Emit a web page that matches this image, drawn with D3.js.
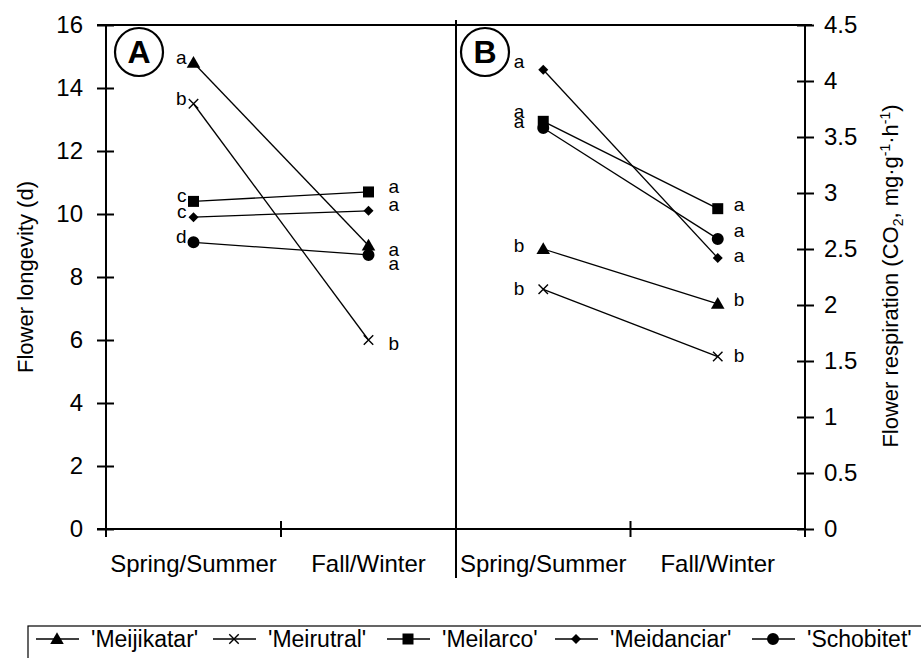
<!DOCTYPE html>
<html>
<head>
<meta charset="utf-8">
<script src="https://cdn.jsdelivr.net/npm/d3@7"></script>
<style>
  body { margin: 0; background: #fff; }
  text { font-family: "Liberation Sans", Arial, sans-serif; fill: #000; }
</style>
</head>
<body>
<svg id="chart" width="921" height="658"></svg>
<script>
// data
const seasons = ["Spring/Summer", "Fall/Winter"];
const cultivars = ["'Meijikatar'", "'Meirutral'", "'Meilarco'", "'Meidanciar'", "'Schobitet'"];
const symbols = ["triangle", "cross", "square", "diamond", "circle"];

// panel A: flower longevity (d), [spring/summer, fall/winter]
const longevity = [[14.8, 9.0], [13.5, 6.0], [10.4, 10.7], [9.9, 10.1], [9.1, 8.7]];
const longevityLetters = [["a", "a"], ["b", "b"], ["c", "a"], ["c", "a"], ["d", "a"]];

// panel B: flower respiration (CO2 mg/g/h)
const respiration = [[2.5, 2.01], [2.14, 1.54], [3.64, 2.86], [4.1, 2.42], [3.58, 2.59]];
const respirationLetters = [["b", "b"], ["b", "b"], ["a", "a"], ["a", "a"], ["a", "a"]];

const longevityTicks = [0, 2, 4, 6, 8, 10, 12, 14, 16];
const respirationTicks = [0, 0.5, 1, 1.5, 2, 2.5, 3, 3.5, 4, 4.5];

const svg = d3.select("#chart");
const plotTop = 25, plotBottom = 529;
const leftX = 106, midX = 456, rightX = 805;

const yL = d3.scaleLinear().domain([0, 16]).range([plotBottom, plotTop]);
const yR = d3.scaleLinear().domain([0, 4.5]).range([plotBottom, plotTop]);
const xA = d3.scaleBand().domain(seasons).range([leftX, midX]);
const xB = d3.scaleBand().domain(seasons).range([midX, rightX]);

// letter label nudges (px) so they don't collide, per cultivar
const nudge = {
  A: { ss: [-5, -5, -5, -5, -5], fw: [4, 4, -5, -6, 9], ssDx: -7, fwDx: 20 },
  B: { ss: [-3, 0, -9, -8, -6], fw: [-4, -1, -4, -2, -8], ssDx: -19, fwDx: 16 }
};

function marker(g, type, x, y) {
  if (type === "cross") {
    g.append("path")
      .attr("transform", `translate(${x},${y})`)
      .attr("d", d3.symbol(d3.symbolTimes, 60)())
      .attr("fill", "none").attr("stroke", "#000").attr("stroke-width", 1.4);
  } else if (type === "diamond") {
    g.append("path")
      .attr("transform", `translate(${x},${y}) rotate(45)`)
      .attr("d", d3.symbol(d3.symbolSquare, 50)())
      .attr("fill", "#000");
  } else {
    const t = { triangle: d3.symbolTriangle, square: d3.symbolSquare, circle: d3.symbolCircle }[type];
    const s = { triangle: 80, square: 121, circle: 113 }[type];
    g.append("path")
      .attr("transform", `translate(${x},${y + (type === "triangle" ? 1 : 0)})`)
      .attr("d", d3.symbol(t, s)())
      .attr("fill", "#000");
  }
}

function panel(x, y, values, letters, nd) {
  const g = svg.append("g");
  const cx = s => x(s) + x.bandwidth() / 2;
  values.forEach(v => {
    g.append("path")
      .attr("d", d3.line()([[cx(seasons[0]), y(v[0])], [cx(seasons[1]), y(v[1])]]))
      .attr("stroke", "#000").attr("stroke-width", 1.3).attr("fill", "none");
  });
  values.forEach((v, i) => {
    const x0 = cx(seasons[0]), x1 = cx(seasons[1]);
    marker(g, symbols[i], x0, y(v[0]));
    marker(g, symbols[i], x1, y(v[1]));
    g.append("text").attr("x", x0 + nd.ssDx).attr("y", y(v[0]) + nd.ss[i] + 6)
      .attr("text-anchor", "end").attr("font-size", 19).text(letters[i][0]);
    g.append("text").attr("x", x1 + nd.fwDx).attr("y", y(v[1]) + nd.fw[i] + 6)
      .attr("font-size", 19).text(letters[i][1]);
  });
}

// frame lines
const frame = svg.append("g").attr("stroke", "#000").attr("stroke-width", 2);
frame.append("line").attr("x1", 97).attr("x2", 812).attr("y1", plotTop).attr("y2", plotTop);
frame.append("line").attr("x1", midX).attr("x2", midX).attr("y1", 20).attr("y2", 578);

// left axis
const axL = svg.append("g").attr("transform", `translate(${leftX},0)`)
  .call(d3.axisLeft(yL).tickValues(longevityTicks).tickSize(9).tickPadding(14));
axL.selectAll(".tick line").attr("x1", 8);
axL.select(".domain").attr("d", `M0,${plotTop}V${plotBottom + 8}`);

// right axis
const axR = svg.append("g").attr("transform", `translate(${rightX},0)`)
  .call(d3.axisRight(yR).tickValues(respirationTicks).tickFormat(d => String(d))
    .tickSize(9).tickPadding(10));
axR.selectAll(".tick line").attr("x1", -8);
axR.select(".domain").attr("d", `M0,${plotTop}V${plotBottom + 8}`);

// bottom axes
[xA, xB].forEach(x => {
  const ax = svg.append("g").attr("transform", `translate(0,${plotBottom})`)
    .call(d3.axisBottom(x).tickSize(0).tickPadding(26));
  ax.select(".domain").attr("d", `M${x.range()[0] - (x === xA ? 9 : 0)},0H${x.range()[1]}`);
  ax.append("line").attr("x1", x(seasons[1])).attr("x2", x(seasons[1]))
    .attr("y1", -8).attr("y2", 8).attr("stroke", "#000").attr("stroke-width", 2);
});

svg.selectAll(".domain").attr("stroke", "#000").attr("stroke-width", 2);
svg.selectAll(".tick line").attr("stroke", "#000").attr("stroke-width", 2);
svg.selectAll(".tick text").attr("font-size", 24).attr("font-family", "Liberation Sans, Arial, sans-serif");

panel(xA, yL, longevity, longevityLetters, nudge.A);
panel(xB, yR, respiration, respirationLetters, nudge.B);

// circled panel letters
[["A", 139], ["B", 485]].forEach(([l, cx]) => {
  svg.append("circle").attr("cx", cx).attr("cy", 52).attr("r", 24)
    .attr("fill", "none").attr("stroke", "#000").attr("stroke-width", 2.2);
  svg.append("text").attr("x", cx).attr("y", 63).attr("text-anchor", "middle")
    .attr("font-size", 32).attr("font-weight", "bold").text(l);
});

// axis titles
svg.append("text").attr("transform", "translate(33,277) rotate(-90)")
  .attr("text-anchor", "middle").attr("font-size", 22).text("Flower longevity (d)");
const rt = svg.append("text").attr("transform", "translate(898,276) rotate(-90)")
  .attr("text-anchor", "middle").attr("font-size", 22);
rt.append("tspan").text("Flower respiration (CO");
rt.append("tspan").attr("font-size", 14).attr("dy", 5).text("2");
rt.append("tspan").attr("dy", -5).text(", mg\u00b7g");
rt.append("tspan").attr("font-size", 14).attr("dy", -8).text("-1");
rt.append("tspan").attr("dy", 8).text("\u00b7h");
rt.append("tspan").attr("font-size", 14).attr("dy", -8).text("-1");
rt.append("tspan").attr("dy", 8).text(")");

// legend
const lg = svg.append("g");
lg.append("rect").attr("x", 28).attr("y", 626).attr("width", 920).attr("height", 60)
  .attr("fill", "none").attr("stroke", "#000").attr("stroke-width", 1.2);
const legendX = [36, 213, 387, 555, 752];
cultivars.forEach((c, i) => {
  const x = legendX[i], y = 639;
  lg.append("line").attr("x1", x).attr("x2", x + 43).attr("y1", y).attr("y2", y)
    .attr("stroke", "#000").attr("stroke-width", 1.5);
  marker(lg, symbols[i], x + 21, y);
  lg.append("text").attr("x", x + 55).attr("y", 647).attr("font-size", 23).text(c);
});
</script>
</body>
</html>
